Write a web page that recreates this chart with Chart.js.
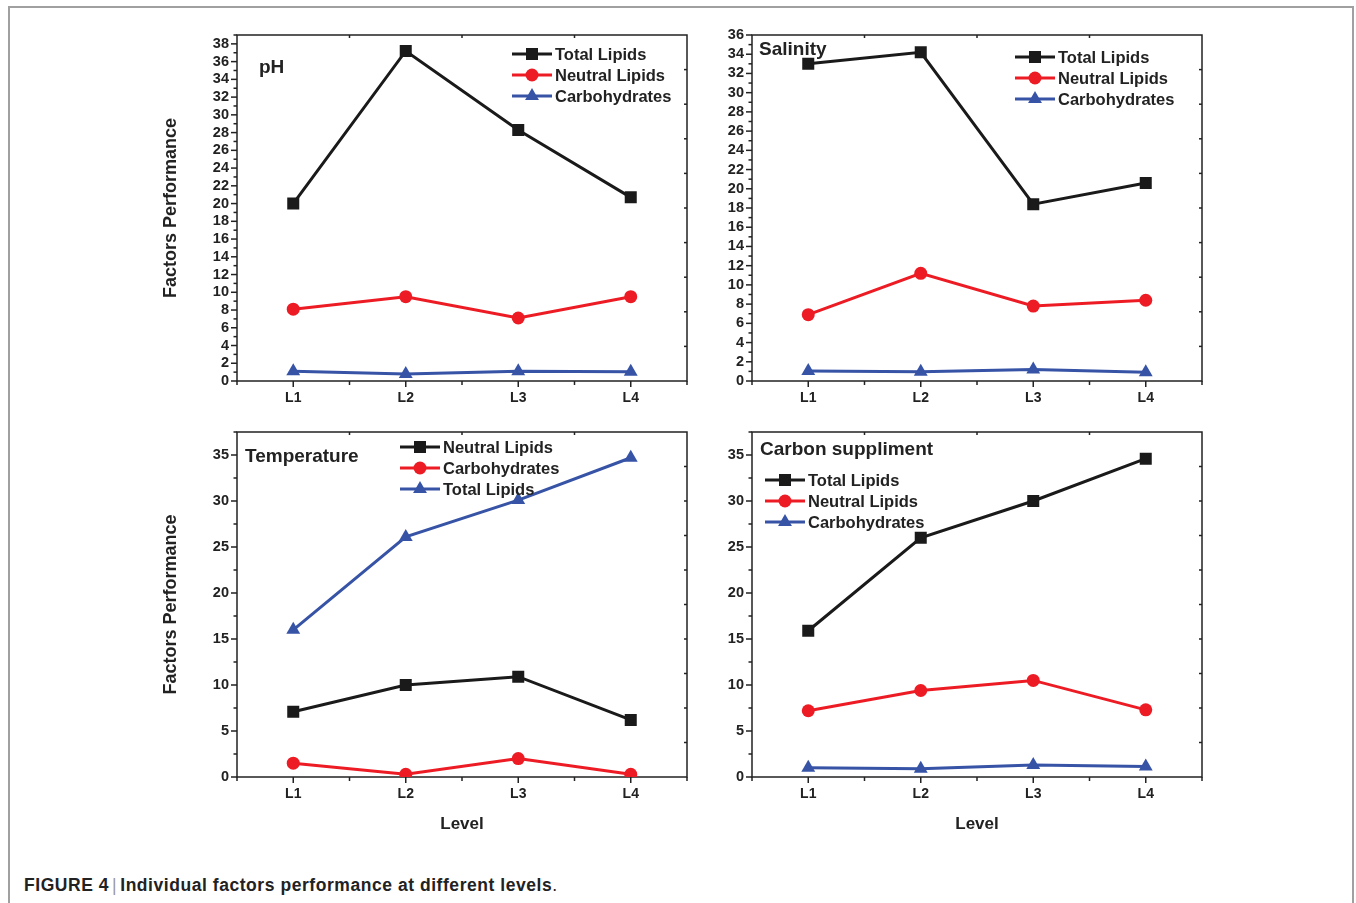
<!DOCTYPE html>
<html>
<head>
<meta charset="utf-8">
<script src="https://cdn.jsdelivr.net/npm/chart.js@4.4.0/dist/chart.umd.min.js"></script>
<style>
  body { margin: 0; background: #fff; font-family: 'Liberation Sans', Arial, sans-serif; }
  #page { position: relative; width: 1356px; height: 903px; overflow: hidden; background: #fff; }
  #frame { position: absolute; left: 8px; top: 6px; width: 1346px; height: 920px; border: 2px solid #a0a0a0; box-sizing: border-box; }
  .panel { position: absolute; }
  #caption { position: absolute; left: 24px; top: 875px; font-size: 17.5px; letter-spacing: 0.55px; color: #222; white-space: nowrap; }
  #caption b { font-weight: bold; }
  #caption .bar { color: #999; font-weight: normal; padding: 0 3px; }
</style>
</head>
<body>
<div id="page">
  <div id="frame"></div>
  <div class="panel" style="left:150px;top:15px;width:560px;height:400px"><canvas id="phChart"></canvas></div>
  <div class="panel" style="left:700px;top:15px;width:530px;height:400px"><canvas id="salChart"></canvas></div>
  <div class="panel" style="left:150px;top:412px;width:560px;height:448px"><canvas id="tempChart"></canvas></div>
  <div class="panel" style="left:700px;top:412px;width:530px;height:448px"><canvas id="carbChart"></canvas></div>
  <div id="caption"><b>FIGURE 4</b><span class="bar">|</span><b>Individual factors performance at different levels</b>.</div>
</div>
<script>
// ===== DATA =====
const levels = ['L1', 'L2', 'L3', 'L4'];

// pH
const phTotal = [20.0, 37.2, 28.3, 20.7];
const phNeutral = [8.1, 9.5, 7.1, 9.5];
const phCarbo = [1.1, 0.8, 1.1, 1.05];

// Salinity
const salTotal = [33.0, 34.2, 18.4, 20.6];
const salNeutral = [6.9, 11.2, 7.8, 8.4];
const salCarbo = [1.05, 0.95, 1.2, 0.9];

// Temperature (legend order as printed in the figure)
const tempNeutral = [7.1, 10.0, 10.9, 6.2];
const tempCarbo = [1.5, 0.3, 2.0, 0.3];
const tempTotal = [16.0, 26.1, 30.1, 34.7];

// Carbon suppliment
const carbTotal = [15.9, 26.0, 30.0, 34.6];
const carbNeutral = [7.2, 9.4, 10.5, 7.3];
const carbCarbo = [1.0, 0.9, 1.3, 1.15];

// ===== STYLES =====
const FONT = "'Liberation Sans', Arial, sans-serif";
const INK = '#222';
const black = { color: '#1a1a1a', pointStyle: 'rect', radius: 8.5 };
const red = { color: '#ed1c24', pointStyle: 'circle', radius: 6.5 };
const blue = { color: '#3653a6', pointStyle: 'triangle', radius: 8 };

function serie(label, data, st) {
    return {
        label: label,
        data: data,
        borderColor: st.color,
        backgroundColor: st.color,
        borderWidth: 3,
        pointStyle: st.pointStyle,
        pointRadius: st.radius,
        pointBorderWidth: 0,
        pointBackgroundColor: st.color,
        tension: 0
    };
}

function line(ctx, x1, y1, x2, y2) {
    ctx.beginPath();
    ctx.moveTo(x1, y1);
    ctx.lineTo(x2, y2);
    ctx.stroke();
}

// frame, ticks, panel label and inside legend
const decorPlugin = {
    id: 'decor',
    beforeDatasetsDraw(chart, args, opts) {
        const ctx = chart.ctx, ca = chart.chartArea;
        const ys = chart.scales.y, xs = chart.scales.x;
        const step = ys.options.ticks.stepSize;
        ctx.save();
        ctx.strokeStyle = INK;
        ctx.lineWidth = 1.5;
        ctx.strokeRect(ca.left, ca.top, ca.width, ca.height);

        ys.ticks.forEach(t => {
            const py = ys.getPixelForValue(t.value);
            line(ctx, ca.left - 6, py, ca.left, py);
            const mv = t.value + step / 2;
            if (mv <= ys.max) {
                const my = ys.getPixelForValue(mv);
                line(ctx, ca.left - 3.5, my, ca.left, my);
            }
        });
        for (let k = 1; k < 10; k++) {
            const py = ys.getPixelForValue(ys.max * k / 10);
            line(ctx, ca.right - 3, py, ca.right, py);
        }

        const n = levels.length;
        levels.forEach((l, i) => {
            const px = xs.getPixelForValue(i);
            line(ctx, px, ca.bottom, px, ca.bottom + 6);
        });
        for (let i = 0; i <= n; i++) {
            let px;
            if (i === 0) px = ca.left;
            else if (i === n) px = ca.right;
            else px = (xs.getPixelForValue(i - 1) + xs.getPixelForValue(i)) / 2;
            line(ctx, px, ca.bottom, px, ca.bottom + 4);
            if (i > 0 && i < n) line(ctx, px, ca.top, px, ca.top + 3);
        }
        ctx.restore();
    },
    afterDatasetsDraw(chart, args, opts) {
        const ctx = chart.ctx, ca = chart.chartArea;
        ctx.save();
        // panel label
        ctx.fillStyle = INK;
        ctx.font = 'bold 19px ' + FONT;
        ctx.textBaseline = 'middle';
        ctx.textAlign = 'left';
        ctx.fillText(opts.panel, ca.left + opts.panelPos[0], ca.top + opts.panelPos[1]);

        // legend
        const lx = ca.left + opts.legendPos[0];
        chart.data.datasets.forEach((ds, i) => {
            const ly = ca.top + opts.legendPos[1] + i * 21;
            ctx.strokeStyle = ds.borderColor;
            ctx.fillStyle = ds.borderColor;
            ctx.lineWidth = 3;
            line(ctx, lx, ly, lx + 40, ly);
            Chart.helpers.drawPoint(ctx, { pointStyle: ds.pointStyle, radius: ds.pointRadius, rotation: 0, borderWidth: 0 }, lx + 20, ly);
            ctx.fillStyle = INK;
            ctx.font = 'bold 16.5px ' + FONT;
            ctx.fillText(ds.label, lx + 43, ly + 1);
        });
        ctx.restore();
    }
};

function makePanel(id, datasets, cfg) {
    new Chart(document.getElementById(id), {
        type: 'line',
        data: { labels: levels, datasets: datasets },
        plugins: [decorPlugin],
        options: {
            responsive: true,
            maintainAspectRatio: false,
            animation: false,
            layout: { padding: { left: 0, top: 20, right: cfg.right, bottom: 0 } },
            plugins: {
                legend: { display: false },
                tooltip: { enabled: false },
                decor: { panel: cfg.panel, panelPos: cfg.panelPos, legendPos: cfg.legendPos }
            },
            scales: {
                x: {
                    type: 'category',
                    offset: true,
                    grid: { display: false, drawTicks: false },
                    border: { display: false },
                    ticks: { color: INK, font: { family: FONT, size: 14, weight: 'bold' }, padding: 9, maxRotation: 0 },
                    title: { display: cfg.xTitle, text: 'Level', color: INK, font: { family: FONT, size: 17, weight: 'bold' }, padding: { top: 0, bottom: 25 } },
                    afterFit: s => { s.height = cfg.xHeight; }
                },
                y: {
                    min: 0,
                    max: cfg.max,
                    grid: { display: false, drawTicks: false },
                    border: { display: false },
                    ticks: { stepSize: cfg.step, autoSkip: false, includeBounds: false, color: INK, font: { family: FONT, size: 14.5, weight: 'bold' }, padding: 8 },
                    title: { display: cfg.yTitle, text: 'Factors Performance', color: INK, font: { family: FONT, size: 18, weight: 'bold' }, padding: { top: 10, bottom: 0 } },
                    afterFit: s => { s.width = cfg.yWidth; }
                }
            }
        }
    });
}

Chart.defaults.font.family = FONT;

makePanel('phChart', [
    serie('Total Lipids', phTotal, black),
    serie('Neutral Lipids', phNeutral, red),
    serie('Carbohydrates', phCarbo, blue)
], { panel: 'pH', panelPos: [22, 33], legendPos: [275, 19], max: 39, step: 2, right: 23, yWidth: 87, xHeight: 34, yTitle: true, xTitle: false });

makePanel('salChart', [
    serie('Total Lipids', salTotal, black),
    serie('Neutral Lipids', salNeutral, red),
    serie('Carbohydrates', salCarbo, blue)
], { panel: 'Salinity', panelPos: [7, 15], legendPos: [263, 22], max: 36, step: 2, right: 28, yWidth: 52, xHeight: 34, yTitle: false, xTitle: false });

makePanel('tempChart', [
    serie('Neutral Lipids', tempNeutral, black),
    serie('Carbohydrates', tempCarbo, red),
    serie('Total Lipids', tempTotal, blue)
], { panel: 'Temperature', panelPos: [8, 25], legendPos: [163, 15], max: 37.5, step: 5, right: 23, yWidth: 87, xHeight: 83, yTitle: true, xTitle: true });

makePanel('carbChart', [
    serie('Total Lipids', carbTotal, black),
    serie('Neutral Lipids', carbNeutral, red),
    serie('Carbohydrates', carbCarbo, blue)
], { panel: 'Carbon suppliment', panelPos: [8, 18], legendPos: [13, 48], max: 37.5, step: 5, right: 28, yWidth: 52, xHeight: 83, yTitle: false, xTitle: true });
</script>
</body>
</html>
